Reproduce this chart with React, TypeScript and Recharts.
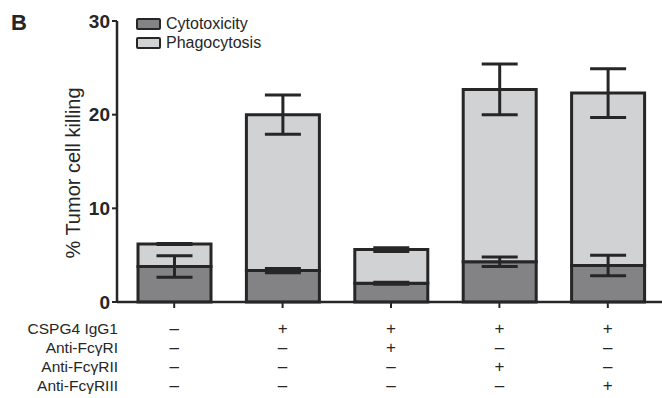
import React from 'react';
import {
  BarChart,
  Bar,
  XAxis,
  YAxis,
  Legend,
  ErrorBar,
} from 'recharts';

// (panel B)
const groups = ['g1', 'g2', 'g3', 'g4', 'g5'];
const cytotoxicity = [3.8, 3.35, 2.0, 4.3, 3.9];
const cytotoxicityErr = [1.15, 0.22, 0.1, 0.5, 1.1];
const phagocytosis = [2.4, 16.65, 3.6, 18.4, 18.4];
const phagocytosisErr = [0.05, 2.1, 0.2, 2.7, 2.6];
const yTicks = [0, 10, 20, 30];

const treatmentRows = ['CSPG4 IgG1', 'Anti-FcγRI', 'Anti-FcγRII', 'Anti-FcγRIII'];
const treatmentSigns = [
  ['–', '+', '+', '+', '+'],
  ['–', '–', '+', '–', '–'],
  ['–', '–', '–', '+', '–'],
  ['–', '–', '–', '–', '+'],
];

const FONT = '"Liberation Sans", Arial, Helvetica, sans-serif';
const INK = '#262626';
const CYTO_FILL = '#838386';
const PHAGO_FILL = '#d1d2d4';

const seriesInfo = [
  { key: 'cytotoxicity', name: 'Cytotoxicity', fill: CYTO_FILL },
  { key: 'phagocytosis', name: 'Phagocytosis', fill: PHAGO_FILL },
];

const data = groups.map((g, i) => ({
  group: g,
  cytotoxicity: cytotoxicity[i],
  cytotoxicityErr: cytotoxicityErr[i],
  phagocytosis: phagocytosis[i],
  phagocytosisErr: phagocytosisErr[i],
}));

const ROW_STEP = 19.3;

// +/– table under each bar, row labels drawn with the first tick
const TreatmentTick = (props: any) => {
  const { x, y, payload } = props;
  const idx = groups.indexOf(payload.value);
  return (
    <g>
      {treatmentSigns.map((row, r) => (
        <text
          key={r}
          x={x}
          y={y + 18 + r * ROW_STEP}
          textAnchor="middle"
          dominantBaseline="central"
          fontFamily={FONT}
          fontSize={17}
          fill={INK}
        >
          {row[idx]}
        </text>
      ))}
      {idx === 0 &&
        treatmentRows.map((label, r) => (
          <text
            key={label}
            x={118}
            y={y + 18 + r * ROW_STEP}
            textAnchor="end"
            dominantBaseline="central"
            fontFamily={FONT}
            fontSize={15.5}
            fill={INK}
          >
            {label}
          </text>
        ))}
    </g>
  );
};

const LegendBox = () => (
  <div style={{ fontFamily: FONT, fontSize: 16, color: INK, lineHeight: '18px' }}>
    {seriesInfo.map((s) => (
      <div key={s.key} style={{ display: 'flex', alignItems: 'center', height: 19 }}>
        <span
          style={{
            display: 'inline-block',
            width: 21,
            height: 8,
            background: s.fill,
            border: `2.5px solid ${INK}`,
            borderRadius: 2,
            marginRight: 5,
          }}
        />
        {s.name}
      </div>
    ))}
  </div>
);

export default function App() {
  return (
    <div style={{ position: 'absolute', left: 0, top: 0, width: 662, height: 398, background: '#fff' }}>
      <div
        style={{
          position: 'absolute',
          left: 11,
          top: 10,
          fontFamily: FONT,
          fontWeight: 'bold',
          fontSize: 22,
          color: INK,
        }}
      >
        B
      </div>
      <BarChart
        width={662}
        height={398}
        data={data}
        margin={{ top: 21, right: 0, bottom: 0, left: 0 }}
      >
        <XAxis
          dataKey="group"
          height={96}
          padding={{ left: 3, right: 0 }}
          tickSize={6}
          tickMargin={2}
          axisLine={{ stroke: INK, strokeWidth: 2.5 }}
          tickLine={{ stroke: INK, strokeWidth: 2 }}
          tick={<TreatmentTick />}
          interval={0}
        />
        <YAxis
          width={117}
          domain={[0, 30]}
          ticks={yTicks}
          tickSize={5}
          tickMargin={2}
          axisLine={{ stroke: INK, strokeWidth: 2.5 }}
          tickLine={{ stroke: INK, strokeWidth: 2 }}
          tick={{ fontFamily: FONT, fontSize: 19, fontWeight: 'bold', fill: INK }}
          label={{
            content: () => (
              <text
                x={73}
                y={173}
                transform="rotate(-90 73 173)"
                textAnchor="middle"
                dominantBaseline="central"
                fontFamily={FONT}
                fontSize={20}
                fill={INK}
              >
                % Tumor cell killing
              </text>
            ),
          }}
        />
        <Legend
          layout="vertical"
          align="center"
          verticalAlign="middle"
          content={<LegendBox />}
          wrapperStyle={{ left: 136, top: 14, width: 'auto', height: 'auto' }}
        />
        {seriesInfo.map((s) => (
          <Bar
            key={s.key}
            dataKey={s.key}
            name={s.name}
            stackId="kill"
            fill={s.fill}
            stroke={INK}
            strokeWidth={3}
            barSize={73}
            isAnimationActive={false}
          >
            {/* cap half-width: recharts draws x-width .. x+width */}
            <ErrorBar
              dataKey={`${s.key}Err`}
              width={18}
              stroke={INK}
              strokeWidth={3}
              direction="y"
            />
          </Bar>
        ))}
      </BarChart>
    </div>
  );
}
